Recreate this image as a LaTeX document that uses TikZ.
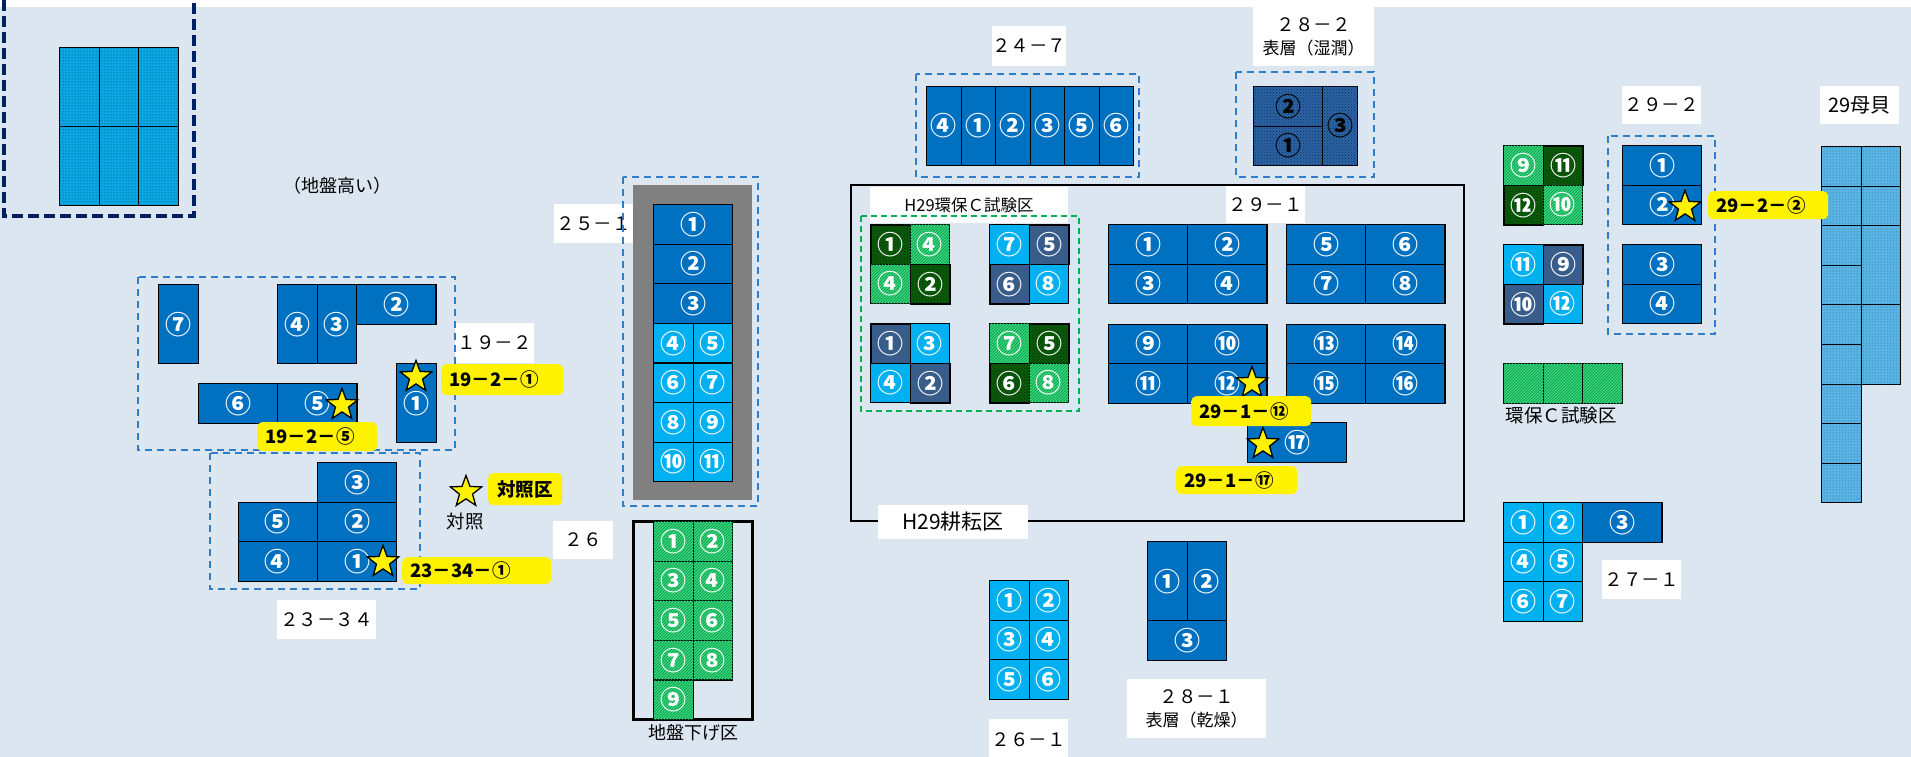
\documentclass[tikz,border=0pt]{standalone}
\usepackage{fontspec}
\setmainfont{Noto Sans CJK JP}
\usetikzlibrary{shapes.geometric,patterns}

\definecolor{bgblue}{HTML}{DCE6F1}
\definecolor{pdark}{HTML}{0070C0}
\definecolor{plight}{HTML}{00B0F0}
\definecolor{pslate}{HTML}{385D8A}
\definecolor{pnavy}{HTML}{2A64A5}
\definecolor{pnavyline}{HTML}{14305A}
\definecolor{pgreen}{HTML}{3DD47A}
\definecolor{pgreenline}{HTML}{00994C}
\definecolor{pdgreen}{HTML}{0A5C0A}
\definecolor{pdot}{HTML}{0AA8E6}
\definecolor{pmother}{HTML}{5AB6E8}
\definecolor{areablue}{HTML}{2F7CC8}
\definecolor{areanavy}{HTML}{002060}
\definecolor{areagreen}{HTML}{00B050}
\definecolor{soilgray}{HTML}{808080}

\newcommand{\numfont}{\fontsize{26}{26}\selectfont\bfseries}
\newcommand{\tagfont}{\fontsize{18.5}{23}\selectfont}
\newcommand{\subfont}{\fontsize{17}{19}\selectfont}
\newcommand{\notefont}{\fontsize{18}{20}\selectfont}
\newcommand{\hlfont}{\fontsize{18.5}{20}\selectfont\bfseries}

\tikzset{
  cell/.style={draw=black, line width=1.1pt, inner sep=0pt, anchor=north west,
    text=white, font=\numfont},
  dk/.style={cell, fill=pdark},
  lt/.style={cell, fill=plight},
  sl/.style={cell, fill=pslate, line width=1.8pt},
  gr/.style={cell, fill=pgreen, postaction={pattern=north east lines, pattern color=pgreenline}},
  dg/.style={cell, fill=pdgreen, line width=1.8pt,
    postaction={pattern=crosshatch dots, pattern color=black!50!pdgreen}},
  wet/.style={cell, fill=pnavy, text=black,
    postaction={pattern=crosshatch dots, pattern color=pnavyline}},
  hidot/.style={cell, fill=pdot, line width=1pt,
    postaction={pattern=dots, pattern color=black!70!pdot}},
  mother/.style={cell, fill=pmother, line width=1pt,
    postaction={pattern=dots, pattern color=black!60!pmother}},
  sq/.style={minimum width=39.6pt, minimum height=39.6pt},
  wd/.style={minimum width=79.2pt, minimum height=39.6pt},
  tl/.style={minimum width=39.6pt, minimum height=79.2pt},
  tag/.style={fill=white, inner sep=0pt, font=\tagfont, align=center},
  area/.style={draw=areablue, line width=1.8pt, dash pattern=on 7pt off 5pt},
  hl/.style={fill=yellow, rounded corners=5pt, anchor=north west, inner xsep=8pt,
    inner ysep=0pt, font=\hlfont, align=left},
  starmark/.style={star, star points=5, star point ratio=2.4, draw=black, fill=yellow,
    line width=1.3pt, minimum size=33pt, inner sep=0pt},
}

\begin{document}
\begin{tikzpicture}[x=1pt,y=-1pt]
\useasboundingbox (0,0) rectangle (1911,757);
\fill[bgblue] (0,7) rectangle (1911,757);

% white labels
\node[tag, minimum width=79pt, minimum height=40pt] (t19-2) at (494.5,343) {１９－２};
\node[tag, minimum width=99pt, minimum height=39pt] (t23-34) at (326.5,619.5) {２３－３４};
\node[tag, minimum width=60pt, minimum height=38pt] (t26) at (583,540) {２６};
\node[tag, minimum width=79pt, minimum height=39pt] (t25-1) at (593.5,223.5) {２５－１};
\node[tag, minimum width=68pt, minimum height=40pt] (t24-7) at (1029,46) {２４－７};
\node[tag, minimum width=121pt, minimum height=59pt] (t28-2) at (1313.5,36.5)
  {２８－２\\{\subfont 表層（湿潤）}};
\node[tag, minimum width=79pt, minimum height=37pt] (t29-1) at (1265.5,204.5) {２９－１};
\node[tag, minimum width=198pt, minimum height=36pt, font=\fontsize{16.5}{18}\selectfont]
  (th29c) at (969,205) {H29環保Ｃ試験区};
\node[tag, minimum width=79pt, minimum height=38pt] (t29-2) at (1661.5,105) {２９－２};
\node[tag, minimum width=79pt, minimum height=38pt, font=\fontsize{20}{22}\selectfont]
  (tmother) at (1859.5,105) {29母貝};
\node[tag, minimum width=79pt, minimum height=39pt] (t27-1) at (1641.5,579.5) {２７－１};
\node[tag, minimum width=79pt, minimum height=42pt] (t26-1) at (1028.5,740) {２６－１};
\node[tag, minimum width=139pt, minimum height=59pt] (t28-1) at (1196.5,708.5)
  {２８－１\\{\subfont 表層（乾燥）}};

% dashed areas
\draw[areanavy, line width=4pt, dash pattern=on 11pt off 5pt] (4,0) -- (4,216) -- (194,216) -- (194,0);
\draw[area] (138,277) rectangle (455,450);
\draw[area] (210,453) rectangle (420,589);
\draw[area] (623,177) rectangle (758,506);
\draw[area] (916,74) rectangle (1139,177);
\draw[area] (1236,72) rectangle (1374,177);
\draw[area] (1608,136) rectangle (1715,334);
\draw[areagreen, line width=1.8pt, dash pattern=on 6pt off 4pt] (861,216) rectangle (1079,411);
\fill[soilgray] (633,185) rectangle (752,500);
\draw[line width=3pt] (633,521) rectangle (752,719);
\draw[line width=2.4pt] (851,185) rectangle (1464,521);
\node[tag, minimum width=150pt, minimum height=34pt, font=\fontsize{21}{22}\selectfont]
  (th29till) at (953,522) {H29耕耘区};

% high ground
\foreach \c in {0,1,2}
  \foreach \r in {0,1}
    \node[hidot, minimum width=39.7pt, minimum height=79pt] (hg\c\r) at ({59+39.7*\c},{47+79*\r}) {};
\node[font=\notefont] (hightxt) at (337,186) {（地盤高い）};

% 19-2
\node[dk,tl] (p19-7) at (158,284) {⑦};
\node[dk,tl] (p19-4) at (277,284) {④};
\node[dk,tl] (p19-3) at (316.6,284) {③};
\node[dk,wd] (p19-2) at (356.2,284) {②};
\node[dk,wd] (p19-6) at (198,383) {⑥};
\node[dk,wd] (p19-5) at (277.2,383) {⑤};
\node[dk,tl] (p19-1) at (396,363) {①};

% 23-34
\node[dk,wd] (p23-3) at (317,462) {③};
\node[dk,wd] (p23-5) at (237.8,501.6) {⑤};
\node[dk,wd] (p23-2) at (317,501.6) {②};
\node[dk,wd] (p23-4) at (237.8,541.2) {④};
\node[dk,wd] (p23-1) at (317,541.2) {①};

% 25-1
\node[dk,wd] (p25-1) at (653,204) {①};
\node[dk,wd] (p25-2) at (653,243.6) {②};
\node[dk,wd] (p25-3) at (653,283.2) {③};
\foreach \n/\c/\r in {④/0/0,⑤/1/0,⑥/0/1,⑦/1/1,⑧/0/2,⑨/1/2,⑩/0/3,⑪/1/3}
  \node[lt,sq] (p25-\c\r) at ({653+39.6*\c},{322.8+39.6*\r}) {\n};

% 26 (lowered ground)
\foreach \n/\c/\r in {①/0/0,②/1/0,③/0/1,④/1/1,⑤/0/2,⑥/1/2,⑦/0/3,⑧/1/3,⑨/0/4}
  \node[gr,sq] (p26-\c\r) at ({653+39.6*\c},{521+39.6*\r}) {\n};
\node[font=\notefont] (lowtxt) at (693,733) {地盤下げ区};

% H29 test plots
\node[dg,sq] (ca1) at (870,224) {①};
\node[gr,sq] (ca4) at (909.6,224) {④};
\node[gr,sq] (ca4b) at (870,263.6) {④};
\node[dg,sq] (ca2) at (909.6,263.6) {②};
\node[lt,sq] (cb7) at (989,224) {⑦};
\node[sl,sq] (cb5) at (1028.6,224) {⑤};
\node[sl,sq] (cb6) at (989,263.6) {⑥};
\node[lt,sq] (cb8) at (1028.6,263.6) {⑧};
\node[sl,sq] (cc1) at (870,323) {①};
\node[lt,sq] (cc3) at (909.6,323) {③};
\node[lt,sq] (cc4) at (870,362.6) {④};
\node[sl,sq] (cc2) at (909.6,362.6) {②};
\node[gr,sq] (cd7) at (989,323) {⑦};
\node[dg,sq] (cd5) at (1028.6,323) {⑤};
\node[dg,sq] (cd6) at (989,362.6) {⑥};
\node[gr,sq] (cd8) at (1028.6,362.6) {⑧};

% 29-1
\foreach \n/\x/\y in {①/1108/224,②/1187.2/224,③/1108/263.6,④/1187.2/263.6,
    ⑤/1286/224,⑥/1365.2/224,⑦/1286/263.6,⑧/1365.2/263.6,
    ⑨/1108/323.6,⑩/1187.2/323.6,⑪/1108/363.2,⑫/1187.2/363.2,
    ⑬/1286/323.6,⑭/1365.2/323.6,⑮/1286/363.2,⑯/1365.2/363.2}
  \node[dk,wd] (p29-\x-\y) at (\x,\y) {\n};
\node[dk,minimum width=99pt,minimum height=40pt] (p29-17) at (1247,422) {⑰};

% 24-7
\foreach \n [count=\i from 0] in {④,①,②,③,⑤,⑥}
  \node[dk,minimum width=34.5pt,minimum height=79pt] (p24-\i) at ({926+34.5*\i},86) {\n};

% 28-2
\node[wet,minimum width=69pt,minimum height=40pt] (p28w-2) at (1253,86) {②};
\node[wet,minimum width=69pt,minimum height=39pt] (p28w-1) at (1253,126) {①};
\node[wet,minimum width=35pt,minimum height=79pt] (p28w-3) at (1322,86) {③};

% right test plots
\node[gr,sq] (ce9) at (1503,145) {⑨};
\node[dg,sq] (ce11) at (1542.6,145) {⑪};
\node[dg,sq] (ce12) at (1503,184.6) {⑫};
\node[gr,sq] (ce10) at (1542.6,184.6) {⑩};
\node[lt,sq] (cf11) at (1503,244) {⑪};
\node[sl,sq] (cf9) at (1542.6,244) {⑨};
\node[sl,sq] (cf10) at (1503,283.6) {⑩};
\node[lt,sq] (cf12) at (1542.6,283.6) {⑫};
\foreach \c in {0,1,2}
  \node[gr,sq] (cg\c) at ({1503+39.6*\c},363) {};
\node[font=\fontsize{18.5}{20}\selectfont] (envtxt) at (1561,415) {環保Ｃ試験区};

% 29-2
\node[dk,wd] (p292-1) at (1622,145) {①};
\node[dk,wd] (p292-2) at (1622,184.6) {②};
\node[dk,wd] (p292-3) at (1622,244) {③};
\node[dk,wd] (p292-4) at (1622,283.6) {④};

% 29 mother shells
\foreach \r in {0,...,8}
  \node[mother,sq] (m0\r) at (1821,{146+39.6*\r}) {};
\node[mother,sq] (m10) at (1860.6,146) {};
\node[mother,sq] (m11) at (1860.6,185.6) {};
\node[mother,tl] (m12) at (1860.6,225.2) {};
\node[mother,tl] (m13) at (1860.6,304.4) {};

% 27-1
\node[lt,sq] (p27-1) at (1503,502) {①};
\node[lt,sq] (p27-2) at (1542.6,502) {②};
\node[dk,wd] (p27-3) at (1582.2,502) {③};
\node[lt,sq] (p27-4) at (1503,541.6) {④};
\node[lt,sq] (p27-5) at (1542.6,541.6) {⑤};
\node[lt,sq] (p27-6) at (1503,581.2) {⑥};
\node[lt,sq] (p27-7) at (1542.6,581.2) {⑦};

% 26-1
\foreach \n/\c/\r in {①/0/0,②/1/0,③/0/1,④/1/1,⑤/0/2,⑥/1/2}
  \node[lt,sq] (p261-\c\r) at ({989+39.6*\c},{580+39.6*\r}) {\n};

% 28-1
\node[dk,tl] (p281-1) at (1147,541) {①};
\node[dk,tl] (p281-2) at (1186.6,541) {②};
\node[dk,wd] (p281-3) at (1147,620.2) {③};

% sampling points
\node[starmark] (s19-1) at (416,377) {};
\node[starmark] (s19-5) at (342,405) {};
\node[starmark] (s23-1) at (383,562) {};
\node[starmark] (sctl) at (466,492) {};
\node[starmark] (s29-12) at (1252,383) {};
\node[starmark] (s29-17) at (1263,444) {};
\node[starmark] (s292-2) at (1685,207) {};
\node[font=\fontsize{18.5}{20}\selectfont] (ctltxt) at (465,522) {対照};

\node[hl, text width=106pt, minimum height=31pt] (h19-1) at (441,364) {19－2－①};
\node[hl, text width=104pt, minimum height=29pt] (h19-5) at (257,422) {19－2－⑤};
\node[hl, text width=133pt, minimum height=27pt] (h23-1) at (402,557) {23－34－①};
\node[hl, text width=58pt, minimum height=32pt, align=center] (hctl) at (488,473) {対照区};
\node[hl, text width=104pt, minimum height=30pt] (h29-12) at (1191,396) {29－1－⑫};
\node[hl, text width=105pt, minimum height=28pt] (h29-17) at (1176,466) {29－1－⑰};
\node[hl, text width=104pt, minimum height=28pt] (h292-2) at (1708,191) {29－2－②};
\end{tikzpicture}
\end{document}
